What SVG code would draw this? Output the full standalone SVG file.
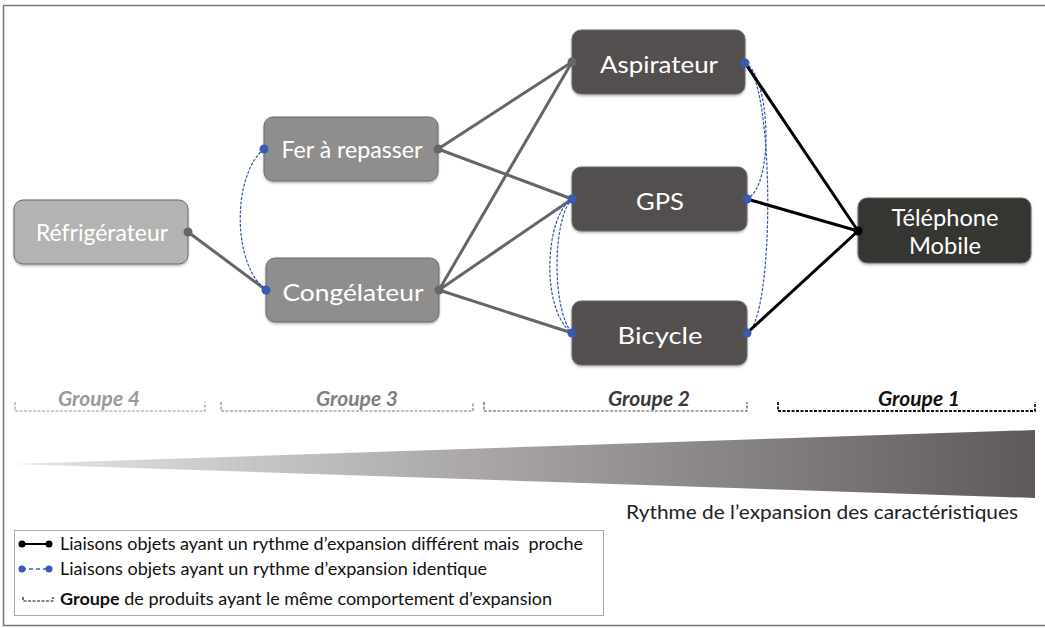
<svg xmlns="http://www.w3.org/2000/svg" width="1045" height="628" viewBox="0 0 1045 628">
<defs>
<linearGradient id="wedge" x1="0" y1="0" x2="1" y2="0">
<stop offset="0" stop-color="#e6e6e6"/>
<stop offset="0.5" stop-color="#a3a09f"/>
<stop offset="1" stop-color="#5f5a5a"/>
</linearGradient>
<filter id="sh" x="-10%" y="-10%" width="120%" height="130%">
<feDropShadow dx="0" dy="1.5" stdDeviation="1.2" flood-color="#000" flood-opacity="0.3"/>
</filter>
</defs>
<style>
.node{stroke:#6b6b6b;stroke-width:1;filter:url(#sh)}
.lbl{font-family:Lato,"Open Sans",sans-serif;font-size:24px;font-weight:400;fill:#ffffff;text-anchor:middle}
.grey{stroke:#666666;stroke-width:3;fill:none}
.blk{stroke:#000;stroke-width:3;fill:none}
.blue{stroke:#3355aa;stroke-width:1.2;stroke-dasharray:3 1.5;fill:none}
.dg{fill:#666666}
.db{fill:#3a59b0}
.dk{fill:#000}
.grp{font-family:Lato,"Open Sans",sans-serif;font-size:21px;font-style:italic;font-weight:bold;text-anchor:middle}
.br{fill:none;stroke-dasharray:3 1.5}
.leg{font-family:Lato,"Open Sans",sans-serif;font-size:17px;font-weight:400;fill:#111}
</style>
<rect x="3.5" y="5.5" width="1050" height="620" fill="#fff" stroke="#777" stroke-width="1.5"/>

<g id="connectors">
<line class="grey" x1="188" y1="232" x2="266" y2="290"/>
<line class="grey" x1="438" y1="149" x2="572" y2="62"/>
<line class="grey" x1="438" y1="149" x2="572" y2="199"/>
<line class="grey" x1="439" y1="290" x2="572" y2="62"/>
<line class="grey" x1="439" y1="290" x2="572" y2="199"/>
<line class="grey" x1="439" y1="290" x2="572" y2="333"/>
<path class="blue" d="M264,149 C232,175 232,265 266,290"/>
<path class="blue" d="M572,199 C545,215 540,310 572,333"/>
<path class="blue" d="M572,199 C552,220 552,310 572,333"/>
<path class="blue" d="M745,63 C770,75 775,185 747,199"/>
<path class="blue" d="M745,63 C775,80 775,320 747,333"/>
<line class="blk" x1="745" y1="63" x2="858" y2="231"/>
<line class="blk" x1="747" y1="199" x2="858" y2="231"/>
<line class="blk" x1="747" y1="333" x2="858" y2="231"/>
</g>

<g id="n-refrigerateur">
<rect class="node" x="14" y="200" width="174" height="64" rx="9" fill="#b4b3b2"/>
<text class="lbl" x="102" y="241" textLength="132" lengthAdjust="spacingAndGlyphs">Réfrigérateur</text>
<circle class="dg" cx="188" cy="232" r="4.5"/>
</g>
<g id="n-fer">
<rect class="node" x="264" y="117" width="174" height="64" rx="9" fill="#8f8e8d"/>
<text class="lbl" x="352" y="158" textLength="141" lengthAdjust="spacingAndGlyphs">Fer à repasser</text>
<circle class="db" cx="264" cy="149" r="4.5"/>
<circle class="dg" cx="438" cy="149" r="4.5"/>
</g>
<g id="n-congelateur">
<rect class="node" x="266" y="258" width="173" height="64" rx="9" fill="#8f8e8d"/>
<text class="lbl" x="353" y="301" textLength="141" lengthAdjust="spacingAndGlyphs">Congélateur</text>
<circle class="db" cx="266" cy="290" r="4.5"/>
<circle class="dg" cx="439" cy="290" r="4.5"/>
</g>
<g id="n-aspirateur">
<rect class="node" x="572" y="30" width="173" height="64" rx="9" fill="#524f50"/>
<text class="lbl" x="659" y="73" textLength="118" lengthAdjust="spacingAndGlyphs">Aspirateur</text>
<circle class="dg" cx="572" cy="62" r="4.5"/>
<circle class="db" cx="745" cy="63" r="4.5"/>
</g>
<g id="n-gps">
<rect class="node" x="572" y="167" width="175" height="64" rx="9" fill="#524f50"/>
<text class="lbl" x="660" y="210" textLength="48" lengthAdjust="spacingAndGlyphs">GPS</text>
<circle class="db" cx="572" cy="199" r="4.5"/>
<circle class="db" cx="747" cy="199" r="4.5"/>
</g>
<g id="n-bicycle">
<rect class="node" x="572" y="301" width="175" height="64" rx="9" fill="#524f50"/>
<text class="lbl" x="660" y="344" textLength="85" lengthAdjust="spacingAndGlyphs">Bicycle</text>
<circle class="db" cx="572" cy="333" r="4.5"/>
<circle class="db" cx="747" cy="333" r="4.5"/>
</g>
<g id="n-telephone">
<rect class="node" x="858" y="198" width="173" height="65" rx="9" fill="#363433"/>
<text class="lbl" x="945" y="226" textLength="107" lengthAdjust="spacingAndGlyphs">Téléphone</text>
<text class="lbl" x="945" y="254" textLength="72" lengthAdjust="spacingAndGlyphs">Mobile</text>
<circle class="dk" cx="858" cy="231" r="4.5"/>
</g>

<g id="groups">
<text class="grp" x="99" y="406" fill="#9a9a9a">Groupe 4</text>
<path class="br" d="M15,402 V411 H205 V402" stroke="#9a9a9a" stroke-width="1.2"/>
<text class="grp" x="357" y="406" fill="#808080">Groupe 3</text>
<path class="br" d="M221,402 V411 H473 V402" stroke="#808080" stroke-width="1.2"/>
<text class="grp" x="649" y="406" fill="#3a3a3a">Groupe 2</text>
<path class="br" d="M484,402 V411 H747 V402" stroke="#555" stroke-width="1.2"/>
<text class="grp" x="919" y="406" fill="#111">Groupe 1</text>
<path class="br" d="M778,402 V411 H1035 V402" stroke="#111" stroke-width="1.8"/>
</g>

<g id="wedge-axis">
<polygon points="14,464 1035,430 1035,498" fill="url(#wedge)"/>
<text x="626" y="519" font-family="Lato,'Open Sans',sans-serif" font-size="20" font-weight="400" fill="#222" textLength="392" lengthAdjust="spacingAndGlyphs">Rythme de l’expansion des caractéristiques</text>
</g>

<g id="legend">
<rect x="14.5" y="530.5" width="589" height="85" fill="#fff" stroke="#aaa" stroke-width="1"/>
<line x1="22" y1="544" x2="49" y2="544" stroke="#000" stroke-width="2"/>
<circle class="dk" cx="22" cy="544" r="3.5"/>
<circle class="dk" cx="49" cy="544" r="3.5"/>
<text class="leg" x="60" y="550" textLength="523" lengthAdjust="spacingAndGlyphs">Liaisons objets ayant un rythme d’expansion différent mais&#160; proche</text>
<line x1="22" y1="569" x2="49" y2="569" stroke="#3a59b0" stroke-width="1.5" stroke-dasharray="4 3"/>
<circle class="db" cx="22" cy="569" r="3.5"/>
<circle class="db" cx="49" cy="569" r="3.5"/>
<text class="leg" x="60" y="575" textLength="427" lengthAdjust="spacingAndGlyphs">Liaisons objets ayant un rythme d’expansion identique</text>
<path d="M23,597 V601 H53 V597" fill="none" stroke="#111" stroke-width="1.2" stroke-dasharray="3 1.5"/>
<text class="leg" x="60" y="605" textLength="492" lengthAdjust="spacingAndGlyphs"><tspan font-weight="bold">Groupe</tspan> de produits ayant le même comportement d’expansion</text>
</g>
</svg>
